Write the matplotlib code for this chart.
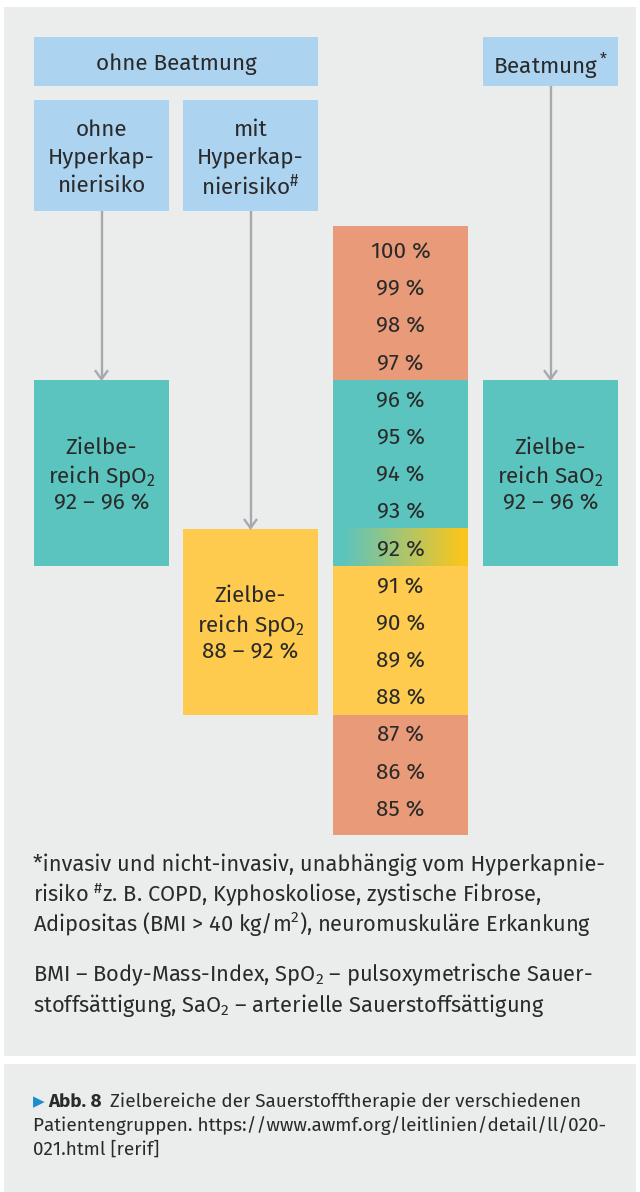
import matplotlib
matplotlib.use("Agg")
import matplotlib.pyplot as plt
import matplotlib.font_manager as fm
import numpy as np
from matplotlib.patches import Rectangle
from matplotlib.colors import to_rgb

# ---------------- data ----------------
levels = [100, 99, 98, 97, 96, 95, 94, 93, 92, 91, 90, 89, 88, 87, 86, 85]
level_zone = ["out", "out", "out", "out",
              "normal", "normal", "normal", "normal",
              "border",
              "hyper", "hyper", "hyper", "hyper",
              "out", "out", "out"]

header_top = ["ohne Beatmung", "Beatmung$^*$"]
groups = ["ohne\nHyperkap-\nnierisiko",
          "mit\nHyperkap-\nnierisiko$^{\\#}$",
          None]
target_labels = ["Zielbe-\nreich SpO$_2$\n92 – 96 %",
                 "Zielbe-\nreich SpO$_2$\n88 – 92 %",
                 "Zielbe-\nreich SaO$_2$\n92 – 96 %"]
target_hi = [96, 92, 96]
target_lo = [92, 88, 92]
target_zone = ["normal", "hyper", "normal"]

footnotes = ["*invasiv und nicht-invasiv, unabhängig vom Hyperkapnie-",
             "risiko $^{\\#}$z. B. COPD, Kyphoskoliose, zystische Fibrose,",
             "Adipositas (BMI > 40 kg/m$^2$), neuromuskuläre Erkankung",
             "",
             "BMI – Body-Mass-Index, SpO$_2$ – pulsoxymetrische Sauer-",
             "stoffsättigung, SaO$_2$ – arterielle Sauerstoffsättigung"]
caption_bold = "Abb. 8"
caption_lines = ["Zielbereiche der Sauerstofftherapie der verschiedenen",
                 "Patientengruppen. https://www.awmf.org/leitlinien/detail/ll/020-",
                 "021.html [rerif]"]

# ---------------- style ----------------
names = {f.name for f in fm.fontManager.ttflist}
candidates = ["Fira Sans", "Noto Sans", "Open Sans", "Liberation Sans"]
FONT = next((c for c in candidates if c in names), "DejaVu Sans")
plt.rcParams["font.family"] = [FONT, "DejaVu Sans"]
plt.rcParams["mathtext.fontset"] = "custom"
plt.rcParams["mathtext.rm"] = FONT
plt.rcParams["mathtext.it"] = FONT
plt.rcParams["mathtext.bf"] = FONT + ":bold"
plt.rcParams["mathtext.default"] = "rm"

C_OUT = "#e99b79"
C_NORMAL = "#5bc4be"
C_HYPER = "#fecb4e"
C_GRAD_END = "#f8c61e"
C_BLUE = "#acd3f0"
C_BG = "#ebeded"
C_TEXT = "#2a2a2a"
C_ARROW = "#a8a9ac"
C_TRI = "#1c8ccc"
zone_color = {"out": C_OUT, "normal": C_NORMAL, "hyper": C_HYPER}

fig = plt.figure(figsize=(6.4, 11.92), dpi=100)
fig.patch.set_facecolor("white")
ax = fig.add_axes([0, 0, 1, 1])
ax.set_xlim(0, 640)
ax.set_ylim(1192, 0)
ax.axis("off")
renderer = fig.canvas.get_renderer()


def fit_size(s, target_w, base=12.0, **kw):
    t = ax.text(0, 0, s, fontsize=base, **kw)
    w = t.get_window_extent(renderer).width
    t.remove()
    return base * target_w / w


FS_BOX = 1.05 * 0.5 * (fit_size("100 %", 56) + fit_size("ohne Beatmung", 155))
FS_FOOT = fit_size(footnotes[0], 572)
FS_CAP = fit_size(caption_lines[1], 573)

# panels
ax.add_patch(Rectangle((4, 7), 632, 1049, facecolor=C_BG, edgecolor="none"))
ax.add_patch(Rectangle((4, 1064), 632, 130, facecolor=C_BG, edgecolor="none"))

# layout
col_x = [34, 183, 333, 483]
col_w = 135
pitch = 37.2
first_c = 250
scale_top, scale_bot = 226, 835
line_p = 28


def yc(level):
    return first_c + (100 - level) * pitch


def ytop(level):
    return yc(level) - pitch / 2


def ybot(level):
    return yc(level) + pitch / 2


def mtext(x, y, s, fs, pitch_l, **kw):
    lines = s.split("\n")
    n = len(lines)
    for i, ln in enumerate(lines):
        yy = y + (i - (n - 1) / 2) * pitch_l
        ax.text(x, yy, ln, fontsize=fs, ha="center", va="center_baseline",
                color=C_TEXT, zorder=3, **kw)


# header boxes
ax.add_patch(Rectangle((col_x[0], 37), col_x[1] + col_w - col_x[0], 49,
                       facecolor=C_BLUE, edgecolor="none"))
mtext((col_x[0] + col_x[1] + col_w) / 2, 62, header_top[0], FS_BOX, line_p)
ax.add_patch(Rectangle((col_x[3], 37), col_w, 49, facecolor=C_BLUE, edgecolor="none"))
mtext(col_x[3] + col_w / 2, 62, header_top[1], FS_BOX, line_p)

for i, g in enumerate(groups):
    if g is None:
        continue
    ax.add_patch(Rectangle((col_x[i], 100), col_w, 111, facecolor=C_BLUE, edgecolor="none"))
    mtext(col_x[i] + col_w / 2, 156, g, FS_BOX, line_p)

# scale column: merge runs of same zone
i = 0
while i < len(levels):
    j = i
    while j + 1 < len(levels) and level_zone[j + 1] == level_zone[i]:
        j += 1
    t = scale_top if i == 0 else ytop(levels[i])
    b = scale_bot if j == len(levels) - 1 else ybot(levels[j])
    z = level_zone[i]
    if z == "border":
        n = 256
        tt = np.linspace(0, 1, n)
        f = np.clip((tt - 0.08) / 0.87, 0, 1)
        c0 = np.array(to_rgb(C_NORMAL))
        c1 = np.array(to_rgb(C_GRAD_END))
        img = (c0[None, :] * (1 - f[:, None]) + c1[None, :] * f[:, None])[None, :, :]
        ax.imshow(img, extent=(col_x[2], col_x[2] + col_w, b, t), aspect="auto",
                  interpolation="bilinear", zorder=1)
    else:
        ax.add_patch(Rectangle((col_x[2], t), col_w, b - t, facecolor=zone_color[z],
                               edgecolor="none", zorder=1))
    i = j + 1

for lv in levels:
    ax.text(col_x[2] + col_w / 2, yc(lv), f"{lv} %", fontsize=FS_BOX, ha="center",
            va="center_baseline", color=C_TEXT, zorder=3)

# target boxes + arrows
for k, idx in enumerate([0, 1, 3]):
    t = ytop(target_hi[k])
    b = ybot(target_lo[k])
    ax.add_patch(Rectangle((col_x[idx], t), col_w, b - t, facecolor=zone_color[target_zone[k]],
                           edgecolor="none"))
    mtext(col_x[idx] + col_w / 2, (t + b) / 2, target_labels[k], FS_BOX, line_p)
    start = 86 if idx == 3 else 211
    cx = col_x[idx] + col_w / 2
    ax.plot([cx, cx], [start, t - 1], color=C_ARROW, lw=1.7, solid_capstyle="butt")
    ax.plot([cx - 6.5, cx, cx + 6.5], [t - 10, t - 1, t - 10], color=C_ARROW, lw=1.7,
            solid_capstyle="butt", solid_joinstyle="miter")

# footnotes
fy = [862, 892, 921, None, 971, 1002]
for s, y in zip(footnotes, fy):
    if s:
        ax.text(33, y, s, fontsize=FS_FOOT, ha="left", va="center_baseline", color=C_TEXT)

# caption
cy = [1100, 1124, 1148]
ax.text(33, cy[0], "\u25B6", fontsize=FS_CAP * 0.8, family="DejaVu Sans", ha="left",
        va="center_baseline", color=C_TRI)
tb = ax.text(48, cy[0], caption_bold, fontsize=FS_CAP, fontweight="bold", ha="left",
             va="center_baseline", color=C_TEXT)
bb = tb.get_window_extent(renderer).transformed(ax.transData.inverted())
x_after = max(bb.x0, bb.x1) + 8
ax.text(x_after, cy[0], caption_lines[0], fontsize=FS_CAP, ha="left",
        va="center_baseline", color=C_TEXT)
for s, y in zip(caption_lines[1:], cy[1:]):
    ax.text(33, y, s, fontsize=FS_CAP, ha="left", va="center_baseline", color=C_TEXT)

fig.savefig("out.png", dpi=100, facecolor="white")
